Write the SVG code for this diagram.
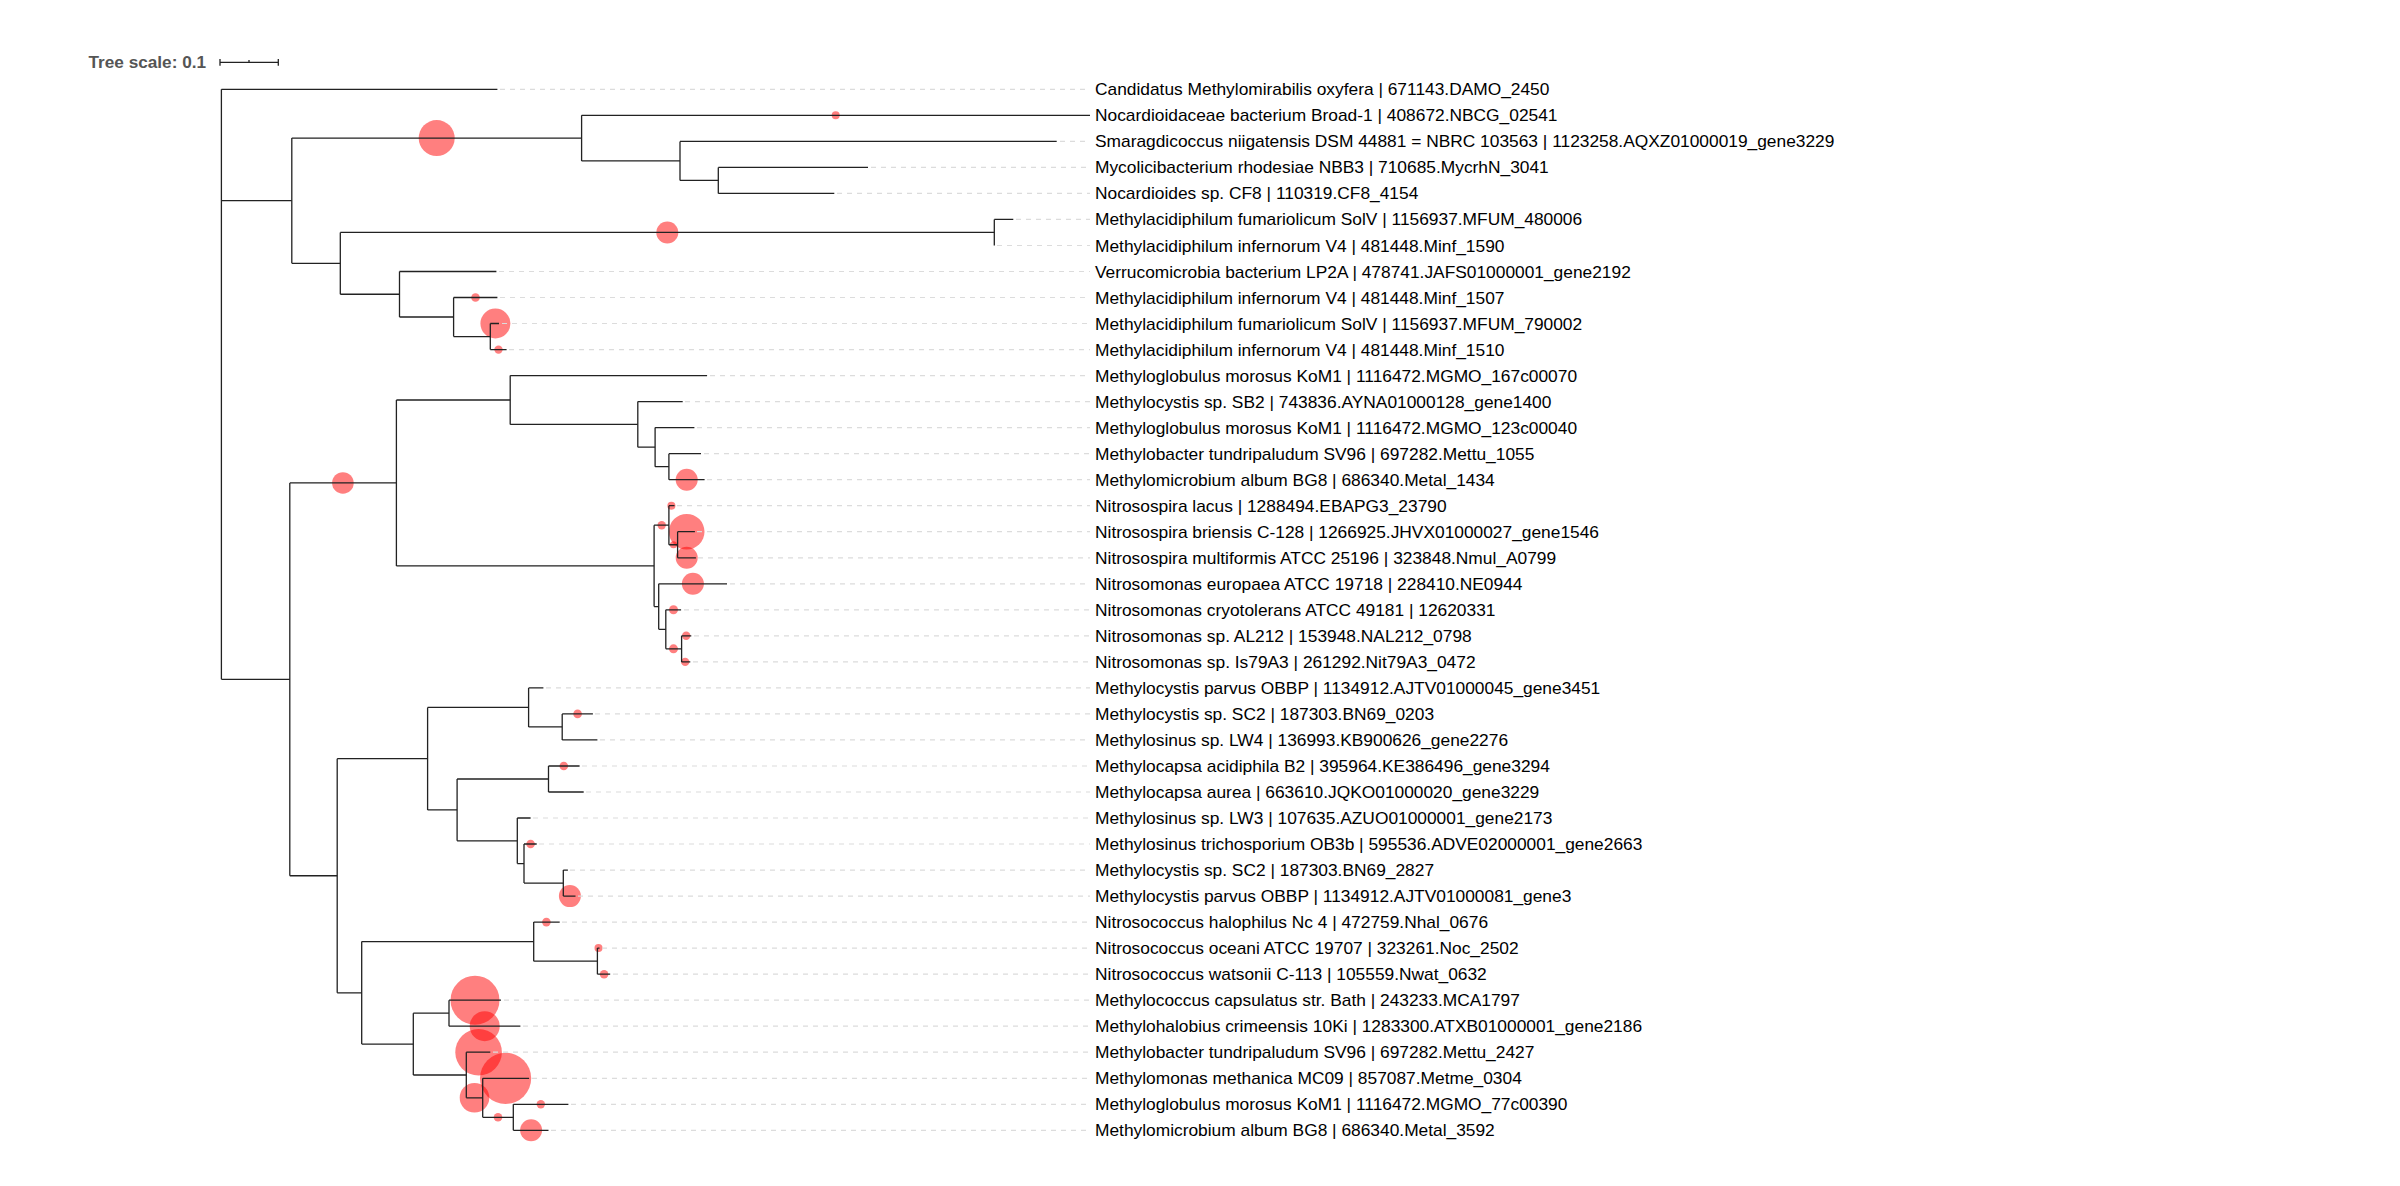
<svg xmlns="http://www.w3.org/2000/svg" width="2400" height="1186" viewBox="0 0 2400 1186">
<style>
.br{fill:none;stroke:#222;stroke-width:1.3}
.dash{fill:none;stroke:#dcdcdc;stroke-width:1.2;stroke-dasharray:5 5}
.sup{fill:#ff0000;fill-opacity:0.5}
.lbl{font-family:"Liberation Sans",Arial,sans-serif;font-size:17.35px;fill:#000}
.ts{font-family:"Liberation Sans",Arial,sans-serif;font-size:17.2px;font-weight:bold;fill:#555}
</style>
<rect width="2400" height="1186" fill="#fff"/>
<g id="scale">
<text class="ts" x="88.5" y="67.5">Tree scale: 0.1</text>
<path class="br" d="M220,62.3H278.3M220,59V65.7M278.3,59V65.7M249,60V62.3"/>
</g>
<g id="support">
<circle class="sup" cx="436.7" cy="138.1" r="18"/>
<circle class="sup" cx="835.7" cy="115.3" r="4"/>
<circle class="sup" cx="667.3" cy="232.45" r="11"/>
<circle class="sup" cx="475.5" cy="297.5" r="4.3"/>
<circle class="sup" cx="495.4" cy="323.5" r="15"/>
<circle class="sup" cx="498.5" cy="349.6" r="4.2"/>
<circle class="sup" cx="342.9" cy="482.95" r="10.8"/>
<circle class="sup" cx="686.7" cy="479.7" r="11"/>
<circle class="sup" cx="661.7" cy="525.2" r="4.2"/>
<circle class="sup" cx="671.4" cy="505.7" r="4"/>
<circle class="sup" cx="673.5" cy="544.75" r="3.6"/>
<circle class="sup" cx="686.7" cy="531.7" r="17.8"/>
<circle class="sup" cx="686.7" cy="557.8" r="11"/>
<circle class="sup" cx="692.9" cy="583.8" r="11"/>
<circle class="sup" cx="673.5" cy="609.8" r="4.5"/>
<circle class="sup" cx="673.5" cy="648.85" r="4.5"/>
<circle class="sup" cx="686.2" cy="635.8" r="4.2"/>
<circle class="sup" cx="685.2" cy="661.9" r="4.2"/>
<circle class="sup" cx="577.6" cy="713.9" r="4.3"/>
<circle class="sup" cx="563.8" cy="766" r="4.3"/>
<circle class="sup" cx="530.6" cy="844" r="4.3"/>
<circle class="sup" cx="569.9" cy="896.1" r="11"/>
<circle class="sup" cx="546.4" cy="922.1" r="4.3"/>
<circle class="sup" cx="598.5" cy="948.1" r="4"/>
<circle class="sup" cx="604.1" cy="974.2" r="4.3"/>
<circle class="sup" cx="475" cy="1000.2" r="24.5"/>
<circle class="sup" cx="484.7" cy="1026.2" r="15"/>
<circle class="sup" cx="478.6" cy="1052.2" r="23.3"/>
<circle class="sup" cx="474.5" cy="1097.8" r="14.8"/>
<circle class="sup" cx="505.6" cy="1078.3" r="25.6"/>
<circle class="sup" cx="498" cy="1117.3" r="4.3"/>
<circle class="sup" cx="540.8" cy="1104.3" r="4.2"/>
<circle class="sup" cx="531.1" cy="1130.3" r="11"/>
</g>
<g id="connectors">
<g id="dashes" class="dash">
<path d="M500,89.3H1090M1060,141.4H1090M871,167.4H1090M837,193.4H1090M1016,219.4H1090M997,245.5H1090M499,271.5H1090M500,297.5H1090M502,323.5H1090M509,349.6H1090"/>
<path d="M710,375.6H1090M685,401.6H1090M697,427.6H1090M704,453.7H1090M707,479.7H1090M677,505.7H1090M697,531.7H1090M698,557.8H1090M730,583.8H1090M684,609.8H1090M694,635.8H1090M693,661.9H1090"/>
<path d="M546,687.9H1090M595,713.9H1090M600,739.9H1090M582,766H1090M586,792H1090M533,818H1090M539,844H1090M570,870.1H1090M578,896.1H1090M562,922.1H1090M602,948.1H1090M613,974.2H1090M504,1000.2H1090M523,1026.2H1090M493,1052.2H1090M532,1078.3H1090M571,1104.3H1090M551,1130.3H1090"/>
</g>
<g id="branches" class="br">
<path d="M221.4,89.3V679.35M221.4,89.3H497.4M221.4,200.7H291.8M221.4,679.35H289.8"/>
<path d="M291.8,138.1V263.35M291.8,138.1H581.6M291.8,263.35H340.3"/>
<path d="M581.6,115.3V160.9M581.6,115.3H1090M581.6,160.9H680"/>
<path d="M680,141.4V180.4M680,141.4H1056.7M680,180.4H718.3"/>
<path d="M718.3,167.4V193.4M718.3,167.4H868M718.3,193.4H834.3"/>
<path d="M340.3,232.45V294.25M340.3,232.45H994.3M340.3,294.25H399.5"/>
<path d="M994.3,219.4V245.5M994.3,219.4H1013.3"/>
<path d="M399.5,271.5V317M399.5,271.5H496.4M399.5,317H453.6"/>
<path d="M453.6,297.5V336.55M453.6,297.5H497.4M453.6,336.55H490.3"/>
<path d="M490.3,323.5V349.6M490.3,323.5H499M490.3,349.6H506.6"/>
<path d="M289.8,482.95V875.75M289.8,482.95H396.4M289.8,875.75H337.2"/>
<path d="M396.4,400V565.9M396.4,400H510.2M396.4,565.9H654.1"/>
<path d="M510.2,375.6V424.4M510.2,375.6H707.1M510.2,424.4H637.8"/>
<path d="M637.8,401.6V447.15M637.8,401.6H682.7M637.8,447.15H655.1"/>
<path d="M655.1,427.6V466.7M655.1,427.6H694.4M655.1,466.7H668.9"/>
<path d="M668.9,453.7V479.7M668.9,453.7H701M668.9,479.7H704.6"/>
<path d="M654.1,525.2V606.55M654.1,525.2H668.9M654.1,606.55H658.7"/>
<path d="M668.9,505.7V544.75M668.9,505.7H674.5M668.9,544.75H677.6"/>
<path d="M677.6,531.7V557.8M677.6,531.7H694.9M677.6,557.8H695.9"/>
<path d="M658.7,583.8V629.3M658.7,583.8H727M658.7,629.3H665.8"/>
<path d="M665.8,609.8V648.85M665.8,609.8H681.1M665.8,648.85H681.6"/>
<path d="M681.6,635.8V661.9M681.6,635.8H691.3M681.6,661.9H690.3"/>
<path d="M337.2,758.65V992.85M337.2,758.65H427.6M337.2,992.85H361.7"/>
<path d="M427.6,707.4V809.9M427.6,707.4H528.6M427.6,809.9H457.1"/>
<path d="M528.6,687.9V726.9M528.6,687.9H543.4M528.6,726.9H562.2"/>
<path d="M562.2,713.9V739.9M562.2,713.9H592.9M562.2,739.9H597.4"/>
<path d="M457.1,779V840.8M457.1,779H548.5M457.1,840.8H517.3"/>
<path d="M548.5,766V792M548.5,766H579.6M548.5,792H583.7"/>
<path d="M517.3,818V863.55M517.3,818H530.6M517.3,863.55H524"/>
<path d="M524,844V883.1M524,844H536.7M524,883.1H563.3"/>
<path d="M563.3,870.1V896.1M563.3,870.1H567.9M563.3,896.1H575.5"/>
<path d="M361.7,941.6V1044.1M361.7,941.6H533.7M361.7,1044.1H413.3"/>
<path d="M533.7,922.1V961.15M533.7,922.1H559.7M533.7,961.15H597.4"/>
<path d="M597.4,948.1V974.2M597.4,948.1H599.5M597.4,974.2H610.2"/>
<path d="M413.3,1013.2V1075M413.3,1013.2H449M413.3,1075H466.3"/>
<path d="M449,1000.2V1026.2M449,1000.2H501M449,1026.2H520.4"/>
<path d="M466.3,1052.2V1097.8M466.3,1052.2H490.3M466.3,1097.8H482.7"/>
<path d="M482.7,1078.3V1117.3M482.7,1078.3H529.1M482.7,1117.3H513.3"/>
<path d="M513.3,1104.3V1130.3M513.3,1104.3H568.4M513.3,1130.3H548.5"/>
</g>
</g>
<g id="leaves" class="lbl">
<g id="leaf-0"><text x="1095" y="95.3">Candidatus Methylomirabilis oxyfera | 671143.DAMO_2450</text></g>
<g id="leaf-1"><text x="1095" y="121.3">Nocardioidaceae bacterium Broad-1 | 408672.NBCG_02541</text></g>
<g id="leaf-2"><text x="1095" y="147.4">Smaragdicoccus niigatensis DSM 44881 = NBRC 103563 | 1123258.AQXZ01000019_gene3229</text></g>
<g id="leaf-3"><text x="1095" y="173.4">Mycolicibacterium rhodesiae NBB3 | 710685.MycrhN_3041</text></g>
<g id="leaf-4"><text x="1095" y="199.4">Nocardioides sp. CF8 | 110319.CF8_4154</text></g>
<g id="leaf-5"><text x="1095" y="225.4">Methylacidiphilum fumariolicum SolV | 1156937.MFUM_480006</text></g>
<g id="leaf-6"><text x="1095" y="251.5">Methylacidiphilum infernorum V4 | 481448.Minf_1590</text></g>
<g id="leaf-7"><text x="1095" y="277.5">Verrucomicrobia bacterium LP2A | 478741.JAFS01000001_gene2192</text></g>
<g id="leaf-8"><text x="1095" y="303.5">Methylacidiphilum infernorum V4 | 481448.Minf_1507</text></g>
<g id="leaf-9"><text x="1095" y="329.5">Methylacidiphilum fumariolicum SolV | 1156937.MFUM_790002</text></g>
<g id="leaf-10"><text x="1095" y="355.6">Methylacidiphilum infernorum V4 | 481448.Minf_1510</text></g>
<g id="leaf-11"><text x="1095" y="381.6">Methyloglobulus morosus KoM1 | 1116472.MGMO_167c00070</text></g>
<g id="leaf-12"><text x="1095" y="407.6">Methylocystis sp. SB2 | 743836.AYNA01000128_gene1400</text></g>
<g id="leaf-13"><text x="1095" y="433.6">Methyloglobulus morosus KoM1 | 1116472.MGMO_123c00040</text></g>
<g id="leaf-14"><text x="1095" y="459.7">Methylobacter tundripaludum SV96 | 697282.Mettu_1055</text></g>
<g id="leaf-15"><text x="1095" y="485.7">Methylomicrobium album BG8 | 686340.Metal_1434</text></g>
<g id="leaf-16"><text x="1095" y="511.7">Nitrosospira lacus | 1288494.EBAPG3_23790</text></g>
<g id="leaf-17"><text x="1095" y="537.7">Nitrosospira briensis C-128 | 1266925.JHVX01000027_gene1546</text></g>
<g id="leaf-18"><text x="1095" y="563.8">Nitrosospira multiformis ATCC 25196 | 323848.Nmul_A0799</text></g>
<g id="leaf-19"><text x="1095" y="589.8">Nitrosomonas europaea ATCC 19718 | 228410.NE0944</text></g>
<g id="leaf-20"><text x="1095" y="615.8">Nitrosomonas cryotolerans ATCC 49181 | 12620331</text></g>
<g id="leaf-21"><text x="1095" y="641.8">Nitrosomonas sp. AL212 | 153948.NAL212_0798</text></g>
<g id="leaf-22"><text x="1095" y="667.9">Nitrosomonas sp. Is79A3 | 261292.Nit79A3_0472</text></g>
<g id="leaf-23"><text x="1095" y="693.9">Methylocystis parvus OBBP | 1134912.AJTV01000045_gene3451</text></g>
<g id="leaf-24"><text x="1095" y="719.9">Methylocystis sp. SC2 | 187303.BN69_0203</text></g>
<g id="leaf-25"><text x="1095" y="745.9">Methylosinus sp. LW4 | 136993.KB900626_gene2276</text></g>
<g id="leaf-26"><text x="1095" y="772">Methylocapsa acidiphila B2 | 395964.KE386496_gene3294</text></g>
<g id="leaf-27"><text x="1095" y="798">Methylocapsa aurea | 663610.JQKO01000020_gene3229</text></g>
<g id="leaf-28"><text x="1095" y="824">Methylosinus sp. LW3 | 107635.AZUO01000001_gene2173</text></g>
<g id="leaf-29"><text x="1095" y="850">Methylosinus trichosporium OB3b | 595536.ADVE02000001_gene2663</text></g>
<g id="leaf-30"><text x="1095" y="876.1">Methylocystis sp. SC2 | 187303.BN69_2827</text></g>
<g id="leaf-31"><text x="1095" y="902.1">Methylocystis parvus OBBP | 1134912.AJTV01000081_gene3</text></g>
<g id="leaf-32"><text x="1095" y="928.1">Nitrosococcus halophilus Nc 4 | 472759.Nhal_0676</text></g>
<g id="leaf-33"><text x="1095" y="954.1">Nitrosococcus oceani ATCC 19707 | 323261.Noc_2502</text></g>
<g id="leaf-34"><text x="1095" y="980.2">Nitrosococcus watsonii C-113 | 105559.Nwat_0632</text></g>
<g id="leaf-35"><text x="1095" y="1006.2">Methylococcus capsulatus str. Bath | 243233.MCA1797</text></g>
<g id="leaf-36"><text x="1095" y="1032.2">Methylohalobius crimeensis 10Ki | 1283300.ATXB01000001_gene2186</text></g>
<g id="leaf-37"><text x="1095" y="1058.2">Methylobacter tundripaludum SV96 | 697282.Mettu_2427</text></g>
<g id="leaf-38"><text x="1095" y="1084.3">Methylomonas methanica MC09 | 857087.Metme_0304</text></g>
<g id="leaf-39"><text x="1095" y="1110.3">Methyloglobulus morosus KoM1 | 1116472.MGMO_77c00390</text></g>
<g id="leaf-40"><text x="1095" y="1136.3">Methylomicrobium album BG8 | 686340.Metal_3592</text></g>
</g>
</svg>
